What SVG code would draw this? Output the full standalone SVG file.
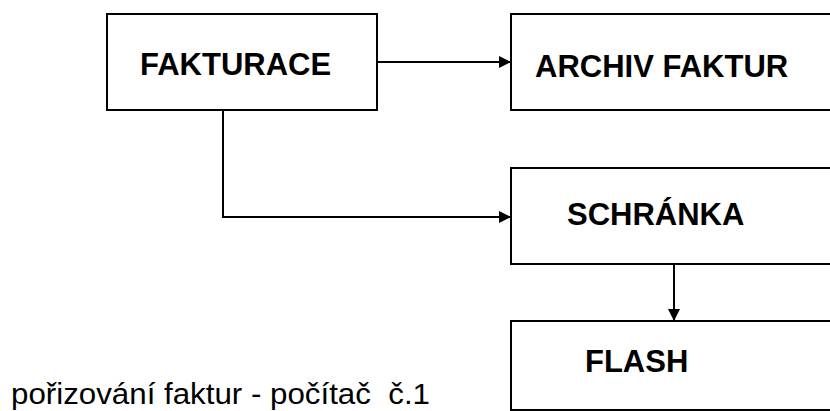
<svg xmlns="http://www.w3.org/2000/svg" width="830" height="411" viewBox="0 0 830 411">
<style>
.box{fill:#fff;stroke:#000;stroke-width:2}
.lbl{font-family:"Liberation Sans",Arial,sans-serif;font-weight:bold;font-size:31px;fill:#000}
.note{font-family:"Liberation Sans",Arial,sans-serif;font-size:30px;fill:#000;white-space:pre}
.conn{fill:none;stroke:#000;stroke-width:2}
</style>
<defs>
<marker id="arr" markerUnits="userSpaceOnUse" markerWidth="14" markerHeight="14" refX="12" refY="6" orient="auto">
<path d="M0,0 L12,6 L0,12 z" fill="#000"/>
</marker>
</defs>
<rect width="830" height="411" fill="#fff"/>
<g id="fakturace">
<rect class="box" x="107" y="14" width="270" height="96"/>
<text class="lbl" x="140" y="75">FAKTURACE</text>
</g>
<g id="archiv">
<rect class="box" x="511" y="14" width="325" height="96"/>
<text class="lbl" x="535" y="77">ARCHIV FAKTUR</text>
</g>
<g id="schranka">
<rect class="box" x="511" y="168" width="325" height="96"/>
<text class="lbl" x="567" y="225">SCHRÁNKA</text>
</g>
<g id="flash">
<rect class="box" x="511" y="321" width="325" height="89"/>
<text class="lbl" x="585" y="372">FLASH</text>
</g>
<g id="connectors">
<path class="conn" d="M377,62 H511" marker-end="url(#arr)"/>
<path class="conn" d="M223,110 V217 H511" marker-end="url(#arr)"/>
<path class="conn" d="M674,264 V321" marker-end="url(#arr)"/>
</g>
<text class="note" x="11" y="404" xml:space="preserve" textLength="419" lengthAdjust="spacingAndGlyphs">pořizování faktur - počítač  č.1</text>
</svg>
